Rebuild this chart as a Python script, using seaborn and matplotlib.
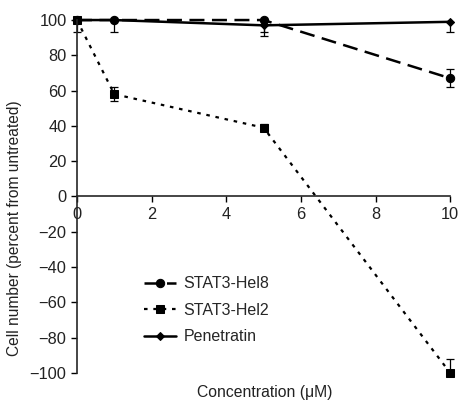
import matplotlib
matplotlib.use("Agg")
import matplotlib.pyplot as plt
import seaborn as sns
import pandas as pd
import numpy as np

conc = [0, 1, 5, 10]
hel8 = [100, 100, 100, 67]
hel8_lo = [7, 7, 7, 5]
hel8_hi = [0, 0, 0, 5]
hel2 = [100, 58, 39, -100]
hel2_lo = [0, 4, 2, 0]
hel2_hi = [0, 4, 2, 8]
pen = [100, 100, 97, 99]
pen_lo = [0, 0, 6, 6]
pen_hi = [0, 0, 3, 0]
names = ["STAT3-Hel8", "STAT3-Hel2", "Penetratin"]

sns.set_style("ticks")
plt.rcParams['font.family'] = ['Liberation Sans', 'DejaVu Sans']

fig = plt.figure(figsize=(4.58, 4.01), dpi=100)
ax = fig.add_axes([0.168, 0.070, 0.815, 0.880])

df = pd.DataFrame({
    "conc": conc * 3,
    "val": hel8 + hel2 + pen,
    "series": [names[0]] * 4 + [names[1]] * 4 + [names[2]] * 4,
})

styles = {
    names[0]: dict(marker="o", ms=6, dashes=(6, 3), lw=1.8),
    names[1]: dict(marker="s", ms=6, dashes=(1.6, 2.6), lw=1.6),
    names[2]: dict(marker="D", ms=4, dashes=None, lw=1.8),
}
errs = {names[0]: (hel8_lo, hel8_hi), names[1]: (hel2_lo, hel2_hi), names[2]: (pen_lo, pen_hi)}

handles = []
for name in names:
    sub = df[df.series == name]
    st = styles[name]
    sns.lineplot(data=sub, x="conc", y="val", ax=ax, color="black", lw=st["lw"],
                 marker=st["marker"], markersize=st["ms"], markeredgecolor="black",
                 legend=False)
    line = ax.lines[-1]
    line.set_clip_on(False)
    if st["dashes"] is not None:
        line.set_dashes(st["dashes"])
    lo, hi = errs[name]
    eb = ax.errorbar(sub.conc, sub.val, yerr=[lo, hi], fmt="none", ecolor="black",
                     elinewidth=0.9, capsize=3, capthick=0.9)
    for art in eb.lines[1]:
        art.set_clip_on(False)
    for art in eb.lines[2]:
        art.set_clip_on(False)
    handles.append(line)

ax.set_xlim(0, 10)
ax.set_ylim(-100, 100)
ax.set_xticks([0, 2, 4, 6, 8, 10])
ax.set_yticks(range(-100, 101, 20))
ax.set_yticklabels([str(v).replace("-", "\u2212") for v in range(-100, 101, 20)])
ax.spines['bottom'].set_position(('data', 0))
ax.spines['top'].set_visible(False)
ax.spines['right'].set_visible(False)
for s in ['left', 'bottom']:
    ax.spines[s].set_linewidth(1.2)
ax.tick_params(labelsize=11.8, width=1, length=4, colors="black", labelcolor="#222222")

ax.set_xlabel("Concentration (\u03bcM)", fontsize=11.3, color="#222222")
ax.xaxis.set_label_coords(0.504, -0.034)
ax.set_ylabel("Cell number (percent from untreated)", fontsize=11.2, color="#222222")
ax.yaxis.set_label_coords(-0.148, 0.41)

ax.legend(handles, names, frameon=False, loc="upper left",
          bbox_to_anchor=(0.14, 0.315), fontsize=11.5, handlelength=2.0,
          labelspacing=0.72, handletextpad=0.5)

fig.savefig("out.png", dpi=100)
